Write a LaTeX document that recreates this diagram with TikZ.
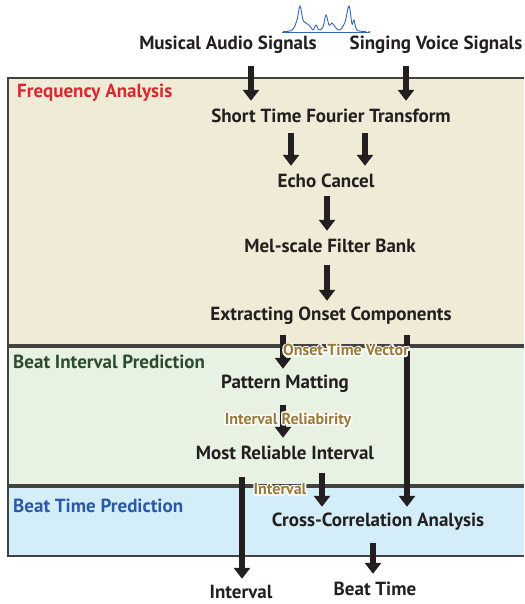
\documentclass[tikz,border=0pt]{standalone}
\usepackage{fontspec}
\setmainfont{PT Sans}
\usepackage{xcolor}
\usepackage{tikz}
\usetikzlibrary{arrows.meta, positioning, calc}

\definecolor{inkdark}{HTML}{231F20}
\definecolor{freqfill}{HTML}{EFEBD6}
\definecolor{intfill}{HTML}{E8F2E2}
\definecolor{timefill}{HTML}{D3EEF8}
\definecolor{freqred}{HTML}{D9282F}
\definecolor{intgreen}{HTML}{2B4C2E}
\definecolor{timeblue}{HTML}{2A59A8}
\definecolor{tagbrown}{HTML}{9A7A36}
\definecolor{wave}{HTML}{3563B5}

% testo con alone bianco (contorno tracciato sotto il testo pieno)
\newcommand\halotext[1]{\leavevmode\rlap{\special{pdf:literal direct 1 Tr 3 w 1 j 1 1 1 RG}#1\special{pdf:literal direct 0 Tr}}#1}

\tikzset{
  stage/.style={font=\bfseries\fontsize{19}{21}\selectfont, text=inkdark, minimum height=30pt, inner sep=2pt},
  section/.style={font=\bfseries\fontsize{19}{21}\selectfont, anchor=west, inner sep=0pt},
  panel/.style={draw=inkdark!85, line width=1.6pt},
  flow/.style={draw=inkdark, line width=6pt, -{Triangle[width=16pt,length=11pt]}},
  tag/.style={font=\bfseries\fontsize{16}{18}\selectfont, text=tagbrown, inner sep=0pt}
}

\begin{document}
\begin{tikzpicture}[x=1pt, y=-1pt]
    \useasboundingbox (0,0) rectangle (524,604);

    % Pannelli (aperti a destra)
    \fill[freqfill] (8,78) rectangle (524,345);
    \fill[intfill] (8,347) rectangle (524,485);
    \fill[timefill] (8,487) rectangle (524,556);
    \draw[panel] (524,78) -| (8,345) -- (524,345);
    \draw[panel] (524,347) -| (8,485) -- (524,485);
    \draw[panel] (524,487) -| (8,556) -- (524,556);
    \node[section, text=freqred] (freqlbl) at (17,93) {Frequency Analysis};
    \node[section, text=intgreen] (intlbl) at (13,362) {Beat Interval Prediction};
    \node[section, text=timeblue] (timelbl) at (13,506) {Beat Time Prediction};

    % Forma d'onda
    \draw[wave, line width=0.5pt, -{Stealth[length=3pt]}] (282,32) -- (371,32);
    \draw[wave, line width=0.9pt] plot [smooth, tension=0.6] coordinates {(283,31.5) (292,30) (297,20) (300,6) (303,20) (306,23) (310,26) (313,30) (316,25) (319,30) (323,27) (326,15) (329,25) (332,23) (336,28) (340,30) (345,22) (349,6) (352,24) (354,20) (357,30) (366,31.5)};

    % Ingressi
    \node[stage] (mus) at (228,45) {Musical Audio Signals};
    \node[stage] (sing) at (436,45) {Singing Voice Signals};

    % Analisi in frequenza
    \node[stage] (stft) at (331,116) {Short Time Fourier Transform};
    \node[stage] (echo) at (326,181) {Echo Cancel};
    \node[stage] (mel) at (330,246) {Mel-scale Filter Bank};
    \node[stage] (onset) at (331,316) {Extracting Onset Components};

    % Intervallo e tempo
    \node[stage] (match) at (285,384) {Pattern Matting};
    \node[stage] (reliable) at (285,453) {Most Reliable Interval};
    \node[stage] (xcorr) at (378,522) {Cross-Correlation Analysis};
    \node[stage] (intout) at (241,592) {Interval};
    \node[stage] (beatout) at (375,589) {Beat Time};

    % Frecce
    \draw[flow, shorten <=6pt] (mus.south -| 251,0) -- (stft.north -| 251,0);
    \draw[flow, shorten <=6pt] (sing.south -| 406,0) -- (stft.north -| 406,0);
    \draw[flow, shorten <=2pt] (stft.south -| 291,0) -- (echo.north -| 291,0);
    \draw[flow, shorten <=2pt] (stft.south -| 365,0) -- (echo.north -| 365,0);
    \draw[flow] (echo.south -| 327,0) -- (mel.north -| 327,0);
    \draw[flow, shorten <=4pt] (mel.south -| 327,0) -- (onset.north -| 327,0);
    \draw[flow, shorten <=4pt] (onset.south -| 283,0) -- (match.north -| 283,0);
    \draw[flow, shorten <=4pt] (onset.south -| 407,0) -- (xcorr.north -| 407,0);
    \draw[flow, shorten <=6pt] (match.south -| 283,0) -- (reliable.north -| 283,0);
    \draw[flow, shorten <=9pt, shorten >=-2pt] (reliable.south -| 242,0) -- (intout.north -| 242,0);
    \draw[flow, shorten <=5pt] (reliable.south -| 322,0) -- (xcorr.north -| 322,0);
    \draw[flow, shorten <=6pt] (xcorr.south -| 373,0) -- (beatout.north -| 373,0);

    % Etichette dei segnali
    \node[tag] (onsettag) at (346,350) {\halotext{Onset-Time Vector}};
    \node[tag] (reltag) at (288,420) {\halotext{Interval Reliabirity}};
    \node[tag] (inttag) at (280,489) {\halotext{Interval}};

\end{tikzpicture}
\end{document}
